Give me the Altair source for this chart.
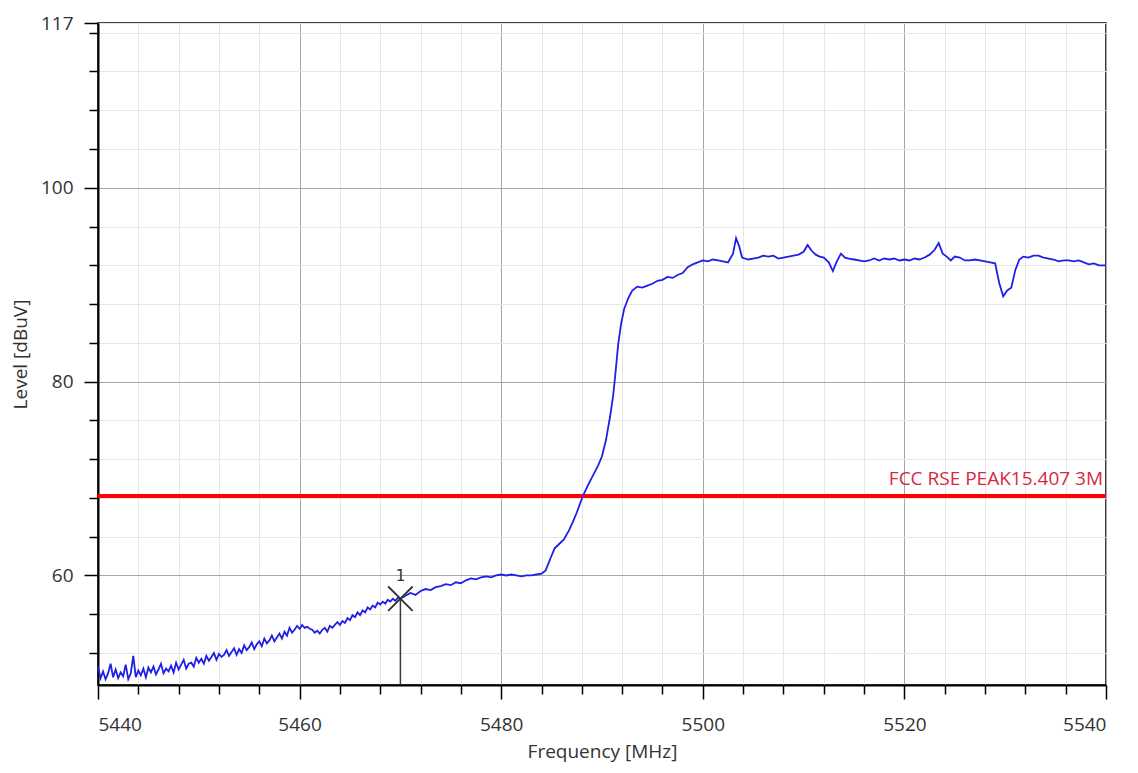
import altair as alt
import pandas as pd

# ---- trace data ----
FREQ = [
    5440.0, 5440.25, 5440.5, 5440.75, 5441.0, 5441.25, 5441.5, 5441.75,
    5442.0, 5442.25, 5442.5, 5442.75, 5443.0, 5443.25, 5443.5, 5443.75,
    5444.0, 5444.25, 5444.5, 5444.75, 5445.0, 5445.25, 5445.5, 5445.75,
    5446.0, 5446.25, 5446.5, 5446.75, 5447.0, 5447.25, 5447.5, 5447.75,
    5448.0, 5448.25, 5448.5, 5448.75, 5449.0, 5449.25, 5449.5, 5449.75,
    5450.0, 5450.25, 5450.5, 5450.75, 5451.0, 5451.25, 5451.5, 5451.75,
    5452.0, 5452.25, 5452.5, 5452.75, 5453.0, 5453.25, 5453.5, 5453.75,
    5454.0, 5454.25, 5454.5, 5454.75, 5455.0, 5455.25, 5455.5, 5455.75,
    5456.0, 5456.25, 5456.5, 5456.75, 5457.0, 5457.25, 5457.5, 5457.75,
    5458.0, 5458.25, 5458.5, 5458.75, 5459.0, 5459.25, 5459.5, 5459.75,
    5460.0, 5460.25, 5460.5, 5460.75, 5461.0, 5461.25, 5461.5, 5461.75,
    5462.0, 5462.25, 5462.5, 5462.75, 5463.0, 5463.25, 5463.5, 5463.75,
    5464.0, 5464.25, 5464.5, 5464.75, 5465.0, 5465.25, 5465.5, 5465.75,
    5466.0, 5466.25, 5466.5, 5466.75, 5467.0, 5467.25, 5467.5, 5467.75,
    5468.0, 5468.25, 5468.5, 5468.75, 5469.0, 5469.25, 5469.5, 5469.75,
    5470.0, 5470.5, 5471.0, 5471.5, 5472.0, 5472.5, 5473.0, 5473.5,
    5474.0, 5474.5, 5475.0, 5475.5, 5476.0, 5476.5, 5477.0, 5477.5,
    5478.0, 5478.5, 5479.0, 5479.5, 5480.0, 5480.5, 5481.0, 5481.5,
    5482.0, 5482.5, 5483.0, 5483.5, 5484.0,
    5484.4, 5484.9, 5485.3, 5485.8, 5486.2, 5486.7, 5487.1, 5487.5,
    5488.1, 5488.6, 5489.1, 5489.6, 5490.0, 5490.4, 5490.8, 5491.1,
    5491.3, 5491.6, 5491.9, 5492.2, 5492.6, 5493.0, 5493.5, 5494.0,
    5494.5, 5495.0, 5495.5, 5496.0, 5496.5, 5497.0, 5497.5, 5498.0,
    5498.5, 5499.0, 5499.5, 5500.0, 5500.5, 5501.0, 5501.5, 5502.0,
    5502.5, 5503.0, 5503.3, 5503.6, 5503.9, 5504.5, 5505.0, 5505.5,
    5506.0, 5506.5, 5507.0, 5507.5, 5508.0, 5508.5, 5509.0, 5509.5,
    5510.0, 5510.4, 5510.8, 5511.2, 5511.6, 5512.0, 5512.5, 5512.9,
    5513.3, 5513.7, 5514.1, 5514.5, 5515.0, 5515.5, 5516.0, 5516.5,
    5517.0, 5517.5, 5518.0, 5518.5, 5519.0, 5519.5, 5520.0, 5520.5,
    5521.0, 5521.5, 5522.0, 5522.5, 5523.0, 5523.4, 5523.8, 5524.2,
    5524.6, 5525.0, 5525.5, 5526.0, 5526.5, 5527.0, 5527.5, 5528.0,
    5528.5, 5529.0, 5529.4, 5529.8, 5530.2, 5530.6, 5531.0, 5531.4,
    5531.8, 5532.3, 5532.8, 5533.3, 5533.8, 5534.3, 5534.8, 5535.3,
    5535.8, 5536.3, 5536.8, 5537.3, 5537.8, 5538.3, 5538.8, 5539.3,
    5540.0,
]
LEVEL = [
    50.6, 49.4, 50.1, 49.3, 49.9, 50.9, 49.5, 50.3,
    49.4, 50.0, 49.6, 50.8, 49.3, 49.9, 51.7, 49.5,
    50.2, 49.7, 50.4, 49.5, 50.5, 50.0, 50.6, 49.8,
    50.3, 50.9, 49.9, 50.4, 50.1, 50.7, 50.0, 51.0,
    50.3, 50.8, 51.3, 50.4, 50.9, 51.0, 50.6, 51.5,
    51.0, 51.4, 50.9, 51.7, 51.2, 51.6, 52.0, 51.3,
    51.9, 51.6, 51.8, 52.3, 51.7, 52.1, 52.5, 51.8,
    52.4, 52.0, 52.8, 52.3, 52.6, 53.1, 52.4, 52.9,
    53.2, 52.7, 53.5, 53.0, 53.3, 53.8, 53.2, 53.6,
    54.0, 53.5, 54.2, 53.8, 54.6, 54.1, 54.4, 54.8,
    54.5, 54.9, 54.6, 54.7, 54.5, 54.4, 54.1, 54.3,
    54.0, 54.4, 54.6, 54.2, 54.8, 54.6, 54.9, 55.2,
    54.9, 55.3, 55.1, 55.6, 55.4, 55.9, 55.7, 56.2,
    55.9, 56.4, 56.2, 56.7, 56.5, 56.9, 56.7, 57.2,
    57.0, 57.3, 57.1, 57.5, 57.3, 57.6, 57.4, 57.7,
    57.6, 57.9, 58.2, 58.0, 58.4, 58.6, 58.5, 58.8,
    58.9, 59.1, 59.0, 59.3, 59.2, 59.5, 59.7, 59.6,
    59.8, 59.9, 59.8, 60.0, 60.1, 60.0, 60.1, 60.0,
    59.9, 60.0, 60.0, 60.1, 60.2,
    60.5, 61.8, 62.8, 63.3, 63.7, 64.6, 65.5, 66.5,
    68.2, 69.3, 70.3, 71.3, 72.3, 74.0, 76.4, 78.5,
    80.5, 83.8, 86.0, 87.5, 88.6, 89.4, 89.8, 89.7,
    89.9, 90.1, 90.4, 90.5, 90.8, 90.7, 91.0, 91.2,
    91.8, 92.1, 92.3, 92.5, 92.4, 92.6, 92.5, 92.4,
    92.3, 93.2, 94.8, 94.0, 92.8, 92.6, 92.7, 92.8,
    93.0, 92.9, 93.0, 92.7, 92.8, 92.9, 93.0, 93.1,
    93.4, 94.1, 93.5, 93.1, 92.9, 92.8, 92.3, 91.4,
    92.4, 93.2, 92.8, 92.7, 92.6, 92.5, 92.4, 92.5,
    92.7, 92.5, 92.7, 92.6, 92.7, 92.5, 92.6, 92.5,
    92.7, 92.6, 92.8, 93.1, 93.6, 94.3, 93.2, 92.9,
    92.5, 92.9, 92.8, 92.5, 92.5, 92.6, 92.5, 92.4,
    92.3, 92.2, 90.2, 88.8, 89.4, 89.7, 91.5, 92.6,
    92.9, 92.8, 93.0, 93.0, 92.8, 92.7, 92.6, 92.4,
    92.5, 92.5, 92.4, 92.5, 92.3, 92.1, 92.2, 92.0,
    92.0,
]

X_TICKS = [5440, 5444, 5448, 5452, 5456, 5460, 5464, 5468, 5472, 5476, 5480,
           5484, 5488, 5492, 5496, 5500, 5504, 5508, 5512, 5516, 5520, 5524,
           5528, 5532, 5536, 5540]
Y_TICKS = [52, 56, 60, 64, 68, 72, 76, 80, 84, 88, 92, 96, 100, 104, 108,
           112, 116, 117]

X_DOMAIN = [5440, 5540]
Y_DOMAIN = [48.7, 117]

LIMIT_LEVEL = [68.2]
LIMIT_LABEL = ["FCC RSE PEAK15.407 3M"]

MARKER_FREQ = [5470.0]
MARKER_LEVEL = [57.6]
MARKER_LABEL = ["1"]

trace = pd.DataFrame({"f": FREQ, "lvl": LEVEL})
limit = pd.DataFrame({"lvl": LIMIT_LEVEL, "label": LIMIT_LABEL,
                      "f0": [X_DOMAIN[0]], "f1": [X_DOMAIN[1]]})
marker = pd.DataFrame({"f": MARKER_FREQ, "lvl": MARKER_LEVEL,
                       "label": MARKER_LABEL, "bottom": [Y_DOMAIN[0]]})

FONT = "Open Sans"

xscale = alt.Scale(domain=X_DOMAIN, nice=False, zero=False)
yscale = alt.Scale(domain=Y_DOMAIN, nice=False, zero=False)

major_x = "datum.value % 20 == 0"
major_y = "datum.value % 20 == 0 || datum.value == 117"

x_axis = alt.Axis(
    values=X_TICKS, format="d", title="Frequency [MHz]",
    labelExpr=f"{major_x} ? datum.label : ''",
    labelOverlap=False,
    gridColor={"condition": {"test": major_x, "value": "#a6a6a6"}, "value": "#e6e6e6"},
    tickSize={"condition": {"test": major_x, "value": 14}, "value": 9},
    labelPadding=16, titlePadding=8,
)
y_axis = alt.Axis(
    values=Y_TICKS, format="d", title="Level [dBuV]",
    labelExpr=f"{major_y} ? datum.label : ''",
    labelOverlap=False,
    gridColor={"condition": {"test": "datum.value % 20 == 0", "value": "#a6a6a6"}, "value": "#e6e6e6"},
    tickSize={"condition": {"test": major_y, "value": 14}, "value": 9},
    labelPadding=11, titlePadding=10,
)

line = alt.Chart(trace).mark_line(color="#1f1fe6", strokeWidth=1.8).encode(
    x=alt.X("f:Q", scale=xscale, axis=x_axis),
    y=alt.Y("lvl:Q", scale=yscale, axis=y_axis),
)

limit_rule = alt.Chart(limit).mark_rule(color="#ff0000", strokeWidth=4).encode(
    x=alt.X("f0:Q", scale=xscale, axis=x_axis), x2="f1:Q",
    y=alt.Y("lvl:Q", scale=yscale, axis=y_axis),
)
limit_text = alt.Chart(limit).mark_text(
    align="right", baseline="bottom", dx=-3, dy=-7, color="#d8283f",
    font=FONT, fontSize=19,
).encode(x=alt.X("f1:Q", scale=xscale, axis=x_axis),
         y=alt.Y("lvl:Q", scale=yscale, axis=y_axis), text="label:N")

marker_rule = alt.Chart(marker).mark_rule(color="#3a3a3a", strokeWidth=1.5).encode(
    x=alt.X("f:Q", scale=xscale, axis=x_axis),
    y=alt.Y("lvl:Q", scale=yscale, axis=y_axis), y2="bottom:Q",
)
marker_x = alt.Chart(marker).mark_point(
    shape="M-1,-1L1,1M-1,1L1,-1", size=600, color="#333333", strokeWidth=1.8,
    filled=False, opacity=1,
).encode(x=alt.X("f:Q", scale=xscale, axis=x_axis),
         y=alt.Y("lvl:Q", scale=yscale, axis=y_axis))
marker_text = alt.Chart(marker).mark_text(
    baseline="middle", align="center", dy=-23, color="#333333",
    font="DejaVu Sans Mono", fontSize=16,
).encode(x=alt.X("f:Q", scale=xscale, axis=x_axis),
         y=alt.Y("lvl:Q", scale=yscale, axis=y_axis), text="label:N")

chart = alt.layer(
    limit_rule, line, marker_rule, marker_x, marker_text, limit_text
).properties(
    width=1008, height=662,
    autosize=alt.AutoSizeParams(type="none"),
    padding={"left": 90, "top": 15, "right": 24, "bottom": 80},
    background="white",
).configure_view(
    stroke="#000000", strokeWidth=1.5,
).configure_axis(
    domainColor="#000000", domainWidth=2,
    tickColor="#000000", tickWidth=1.5,
    labelFont=FONT, labelFontSize=19, labelColor="#333333",
    titleFont=FONT, titleFontSize=19, titleFontWeight="normal", titleColor="#333333",
    gridWidth=1, labelOverlap=False,
)

chart.save("out.html", embed_options={"renderer": "svg", "actions": False})
